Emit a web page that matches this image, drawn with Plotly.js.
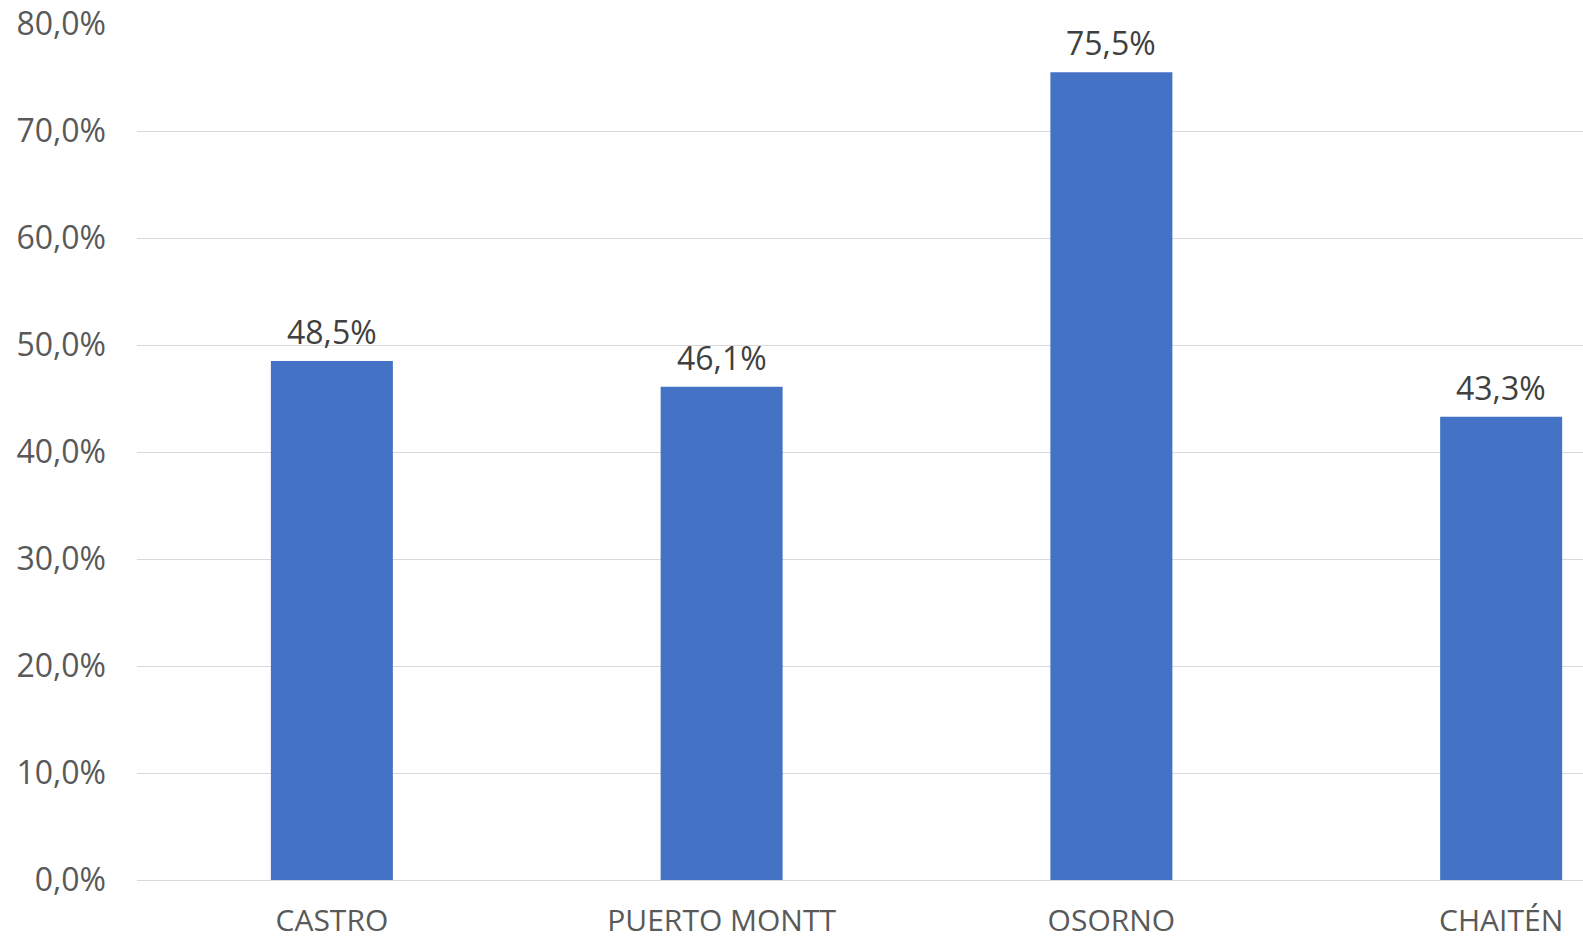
<!DOCTYPE html>
<html>
<head>
<meta charset="utf-8">
<script src="https://cdn.plot.ly/plotly-3.0.1.min.js"></script>
<style>html,body{margin:0;padding:0;overflow:hidden;background:#fff}</style>
</head>
<body>
<div id="chart" style="width:1583px;height:943px"></div>
<script>
const categories = ["CASTRO", "PUERTO MONTT", "OSORNO", "CHAITÉN"];
const values = [48.5, 46.1, 75.5, 43.3];
const tickVals = [0, 10, 20, 30, 40, 50, 60, 70, 80];
const tickText = tickVals.map(v => v.toFixed(1).replace('.', ',') + '%');
const labels = values.map(v => v.toFixed(1).replace('.', ',') + '%');

const trace = {
  type: 'bar',
  x: categories,
  y: values,
  marker: {color: '#4472C4'},
  hoverinfo: 'none'
};

const annotations = categories.map((c, i) => ({
  x: c,
  y: values[i],
  xref: 'x',
  yref: 'y',
  text: labels[i],
  showarrow: false,
  yanchor: 'bottom',
  yshift: 6,
  font: {family: 'Open Sans, sans-serif', size: 32, color: '#404040'}
}));

const layout = {
  width: 1583,
  height: 943,
  margin: {l: 137, r: 0, t: 24, b: 63},
  paper_bgcolor: '#ffffff',
  plot_bgcolor: '#ffffff',
  bargap: 0.687,
  showlegend: false,
  annotations: annotations,
  font: {family: 'Open Sans, sans-serif', color: '#595959'},
  xaxis: {
    type: 'category',
    range: [-0.5, 3.21],
    showgrid: false,
    showline: false,
    zeroline: false,
    ticks: '',
    ticklabelstandoff: 20,
    tickfont: {family: 'Open Sans, sans-serif', size: 30, color: '#595959'}
  },
  yaxis: {
    range: [0, 80],
    tickvals: tickVals,
    ticktext: tickText,
    showgrid: true,
    gridcolor: '#d9d9d9',
    gridwidth: 1,
    zeroline: true,
    zerolinecolor: '#d9d9d9',
    zerolinewidth: 1,
    showline: false,
    ticks: '',
    ticklabelstandoff: 30,
    tickfont: {family: 'Open Sans, sans-serif', size: 32, color: '#595959'}
  }
};

Plotly.newPlot('chart', [trace], layout, {displayModeBar: false, staticPlot: true});
</script>
</body>
</html>
